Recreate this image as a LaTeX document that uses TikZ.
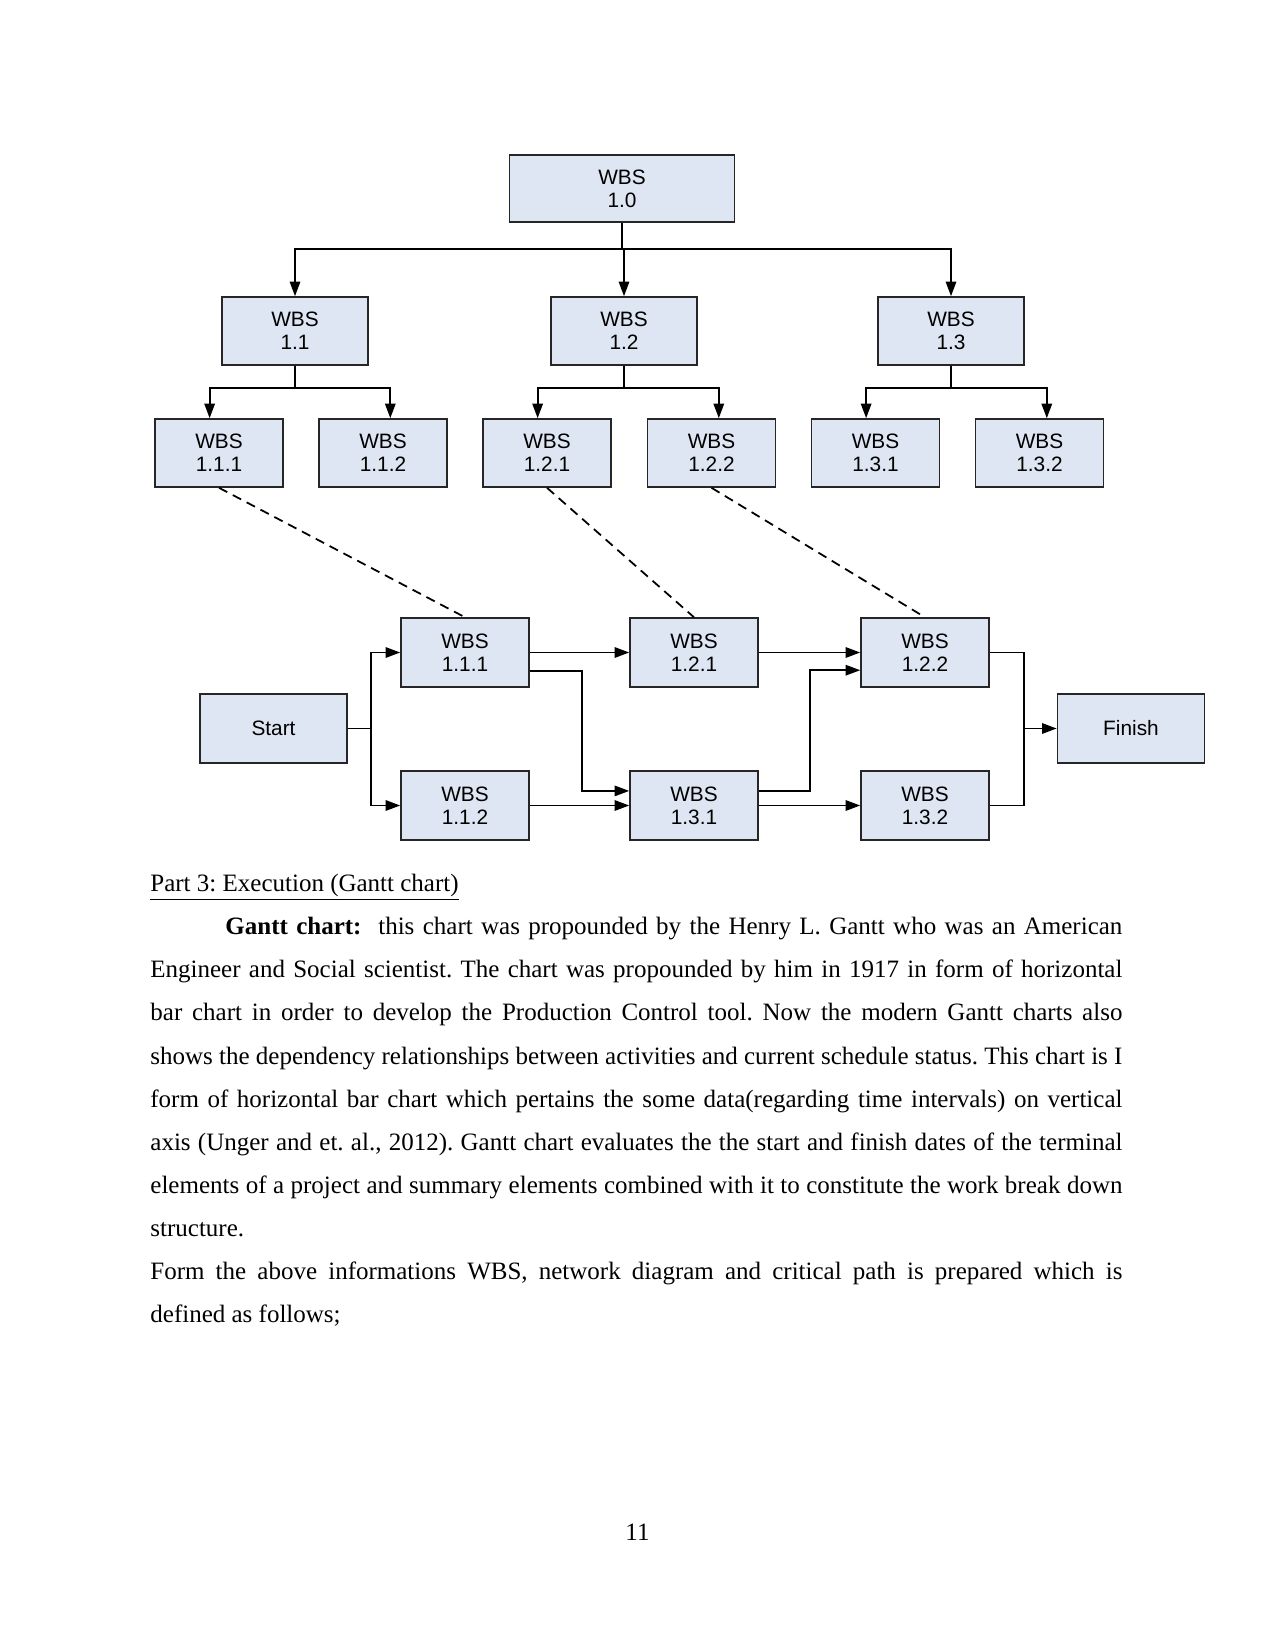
\documentclass[tikz,border=0pt]{standalone}
\usepackage{fontspec}
\setmainfont{Liberation Serif}
\setsansfont{Liberation Sans}
\usetikzlibrary{arrows.meta}

\definecolor{fondboite}{RGB}{221,230,242}

\tikzset{
  boite/.style={draw=black!85, line width=0.8pt, fill=fondboite, align=center,
    inner sep=0pt, font=\sffamily\fontsize{10}{11}\selectfont},
  lien/.style={line width=0.85pt},
  fleche/.style={lien, ->, >={Triangle[length=7pt,width=5pt]}},
  pointille/.style={line width=0.85pt, dash pattern=on 4.5pt off 3pt},
}

\begin{document}
\begin{tikzpicture}[x=0.48pt, y=-0.48pt]
  \useasboundingbox (0,0) rectangle (1275,1650);

  % Hauteurs des niveaux
  \def\hun{331}    % niveau WBS 1.x
  \def\hdeux{453}  % niveau WBS 1.x.x
  \def\hhaut{652.5} % ligne haute du reseau
  \def\hbas{805.5}  % ligne basse du reseau

  % ==============================================
  % 1. STRUCTURE WBS
  % ==============================================
  \node[boite, minimum width=108pt, minimum height=32pt] (w10) at (622,188.5) {WBS\\1.0};

  \foreach \n/\x/\t in {11/295/1.1, 12/624/1.2, 13/951/1.3}
    \node[boite, minimum width=70pt, minimum height=32.6pt] (w\n) at (\x,\hun) {WBS\\\t};

  \foreach \n/\x/\t in {111/219/1.1.1, 112/383/1.1.2, 121/547/1.2.1,
                        122/711.5/1.2.2, 131/875.5/1.3.1, 132/1039.5/1.3.2}
    \node[boite, minimum width=61.4pt, minimum height=32.6pt] (w\n) at (\x,\hdeux) {WBS\\\t};

  % Bus principal sous WBS 1.0
  \draw[lien] (w10.south) -- ++(0,26) coordinate (bus0);
  \foreach \n in {11,12,13}
    \draw[fleche] (bus0) -| (w\n.north);

  % Sous-bus de chaque branche (un peu plus large que les boites)
  \foreach \p/\a/\b in {11/111/112, 12/121/122, 13/131/132} {
    \draw[lien] (w\p.south) -- ++(0,22) coordinate (bus\p);
    \draw[fleche] (bus\p) -| ([xshift=-4.5pt]w\a.north);
    \draw[fleche] (bus\p) -| ([xshift=3.5pt]w\b.north);
  }

  % ==============================================
  % 2. DIAGRAMME RESEAU
  % ==============================================
  \foreach \n/\x/\y/\t in {111/465/\hhaut/1.1.1, 121/694/\hhaut/1.2.1, 122/925/\hhaut/1.2.2,
                           112/465/\hbas/1.1.2, 131/694/\hbas/1.3.1, 132/925/\hbas/1.3.2}
    \node[boite, minimum width=61.4pt, minimum height=33pt] (n\n) at (\x,\y) {WBS\\\t};

  \node[boite, minimum width=70.6pt, minimum height=33pt] (start) at (273.5,728.5) {Start};
  \node[boite, minimum width=70.6pt, minimum height=33pt] (finish) at (1131,728.5) {Finish};

  % Correspondances WBS -> reseau (pointilles)
  \foreach \n in {111,121,122}
    \draw[pointille] (w\n.south) -- (n\n.north);

  % Depart
  \draw[lien] (start.east) -- ++(23,0) coordinate (dep);
  \draw[fleche] (dep) |- (n111.west);
  \draw[fleche] (dep) |- (n112.west);

  % Liens directs
  \draw[fleche] (n111) -- (n121);
  \draw[fleche] (n121) -- (n122);
  \draw[fleche] (n112) -- (n131);
  \draw[fleche] (n131) -- (n132);

  % Liens croises
  \draw[fleche] ([yshift=-9pt]n111.east) -- ++(52,0) |- ([yshift=7pt]n131.west);
  \draw[fleche] ([yshift=7pt]n131.east) -- ++(51,0) |- ([yshift=-8.5pt]n122.west);

  % Arrivee
  \coordinate (arr) at (1024,728.5);
  \draw[lien] (n122.east) -| (arr);
  \draw[lien] (n132.east) -| (arr);
  \draw[fleche] (arr) -- (finish.west);

  % ==============================================
  % 3. TEXTE DE LA PAGE
  % ==============================================
  \node[anchor=north west, inner sep=0pt, text width=466.56pt, align=justify,
        font=\fontsize{12}{20.7}\selectfont] (texte) at (150,861) {%
    \hyphenpenalty=10000 \frenchspacing
    \strut\underline{Part 3: Execution (Gantt chart)}\par
    \hspace*{36pt}\textbf{Gantt chart:}~ this chart was propounded by the Henry L. Gantt who was an American\linebreak
    Engineer and Social scientist. The chart was propounded by him in 1917 in form of horizontal\linebreak
    bar chart in order to develop the Production Control tool. Now the modern Gantt charts also\linebreak
    shows the dependency relationships between activities and current schedule status. This chart is I\linebreak
    form of horizontal bar chart which pertains the some data(regarding time intervals) on vertical\linebreak
    axis (Unger and et. al., 2012). Gantt chart evaluates the the start and finish dates of the terminal\linebreak
    elements of a project and summary elements combined with it to constitute the work break down\linebreak
    structure.\par
    Form the above informations WBS, network diagram and critical path is prepared which is\linebreak
    defined as follows;\par};

  \node[anchor=base, font=\fontsize{12}{14}\selectfont] (page) at (637.5,1540) {11};

\end{tikzpicture}
\end{document}
